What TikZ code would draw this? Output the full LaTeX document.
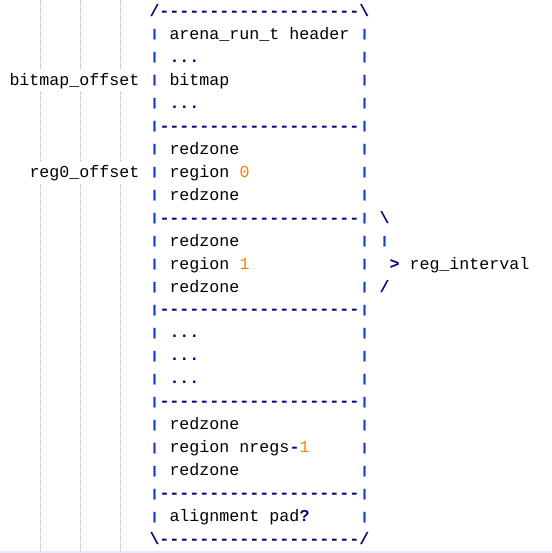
\documentclass[tikz,border=0pt]{standalone}
\usepackage{fontspec}
\newfontfamily\code{Liberation Mono}[Ligatures=TeXOff,WordSpace={1,0,0}]
\definecolor{opc}{RGB}{0,0,128}
\definecolor{pipec}{RGB}{20,60,210}
\definecolor{numc}{RGB}{255,128,0}
\definecolor{guidec}{RGB}{175,175,175}
\definecolor{bandc}{RGB}{232,232,255}
\newcommand{\shortbar}{\raisebox{1.5pt}{\scalebox{1}[0.68]{|}}}
\tikzset{
  t/.style={anchor=base west, inner sep=0pt, outer sep=0pt,
    font=\code\fontsize{16.66pt}{23pt}\selectfont, text=black},
  op/.style={t, text=opc, font=\code\bfseries\fontsize{16.66pt}{23pt}\selectfont},
  pipe/.style={op, text=pipec},
  num/.style={t, text=numc},
  guide/.style={draw=guidec, line width=1pt, dash pattern=on 1pt off 1pt},
}
\begin{document}
\begin{tikzpicture}[x=1pt,y=1pt]
\fill[white] (0,0) rectangle (551,-553);
\useasboundingbox (0,0) rectangle (551,-553);
\fill[bandc] (0,-550.5) rectangle (551,-553);
% indentation guides
\foreach \gx in {40.5,80.5,120.5} {
  \draw[guide] (\gx,0) -- (\gx,-69.4);
  \draw[guide] (\gx,-92.4) -- (\gx,-161.2);
  \draw[guide] (\gx,-184.2) -- (\gx,-550.5);
}
\begin{scope}[x=10pt,y=-22.96pt,shift={(-0.5pt,-16.5pt)}]
  \node[op] (top) at (15,0) {/--------------------\textbackslash};
  \foreach \r in {1,...,22} {
    \node[pipe] (pl\r) at (15,\r) {\shortbar};
    \node[pipe] (pr\r) at (36,\r) {\shortbar};
  }
  \node[t] (hdr) at (17,1) {arena\_run\_t header};
  \foreach \r in {2,4,14,15,16} {
    \node[op] (dots\r) at (17,\r) {...};
  }
  \node[t] (bmo) at (1,3) {bitmap\_offset};
  \node[t] (bm) at (17,3) {bitmap};
  \foreach \r in {5,9,13,17,21} {
    \node[op] (sep\r) at (16,\r) {--------------------};
  }
  \foreach \r in {6,8,10,12,18,20} {
    \node[t] (rz\r) at (17,\r) {redzone};
  }
  \node[t] (r0o) at (3,7) {reg0\_offset};
  \node[t] (reg0) at (17,7) {region};
  \node[num] (n0) at (24,7) {0};
  \node[t] (reg1) at (17,11) {region};
  \node[num] (n1) at (24,11) {1};
  \node[op] (brT) at (38,9) {\textbackslash};
  \node[pipe] (brM) at (38,10) {\shortbar};
  \node[op] (gt) at (39,11) {>};
  \node[t] (ri) at (41,11) {reg\_interval};
  \node[op] (brB) at (38,12) {/};
  \node[t] (regn) at (17,19) {region nregs};
  \node[op] (minus) at (29,19) {-};
  \node[num] (nn) at (30,19) {1};
  \node[t] (pad) at (17,22) {alignment pad};
  \node[op] (q) at (30,22) {?};
  \node[op] (bot) at (15,23) {\textbackslash--------------------/};
\end{scope}
\end{tikzpicture}
\end{document}
